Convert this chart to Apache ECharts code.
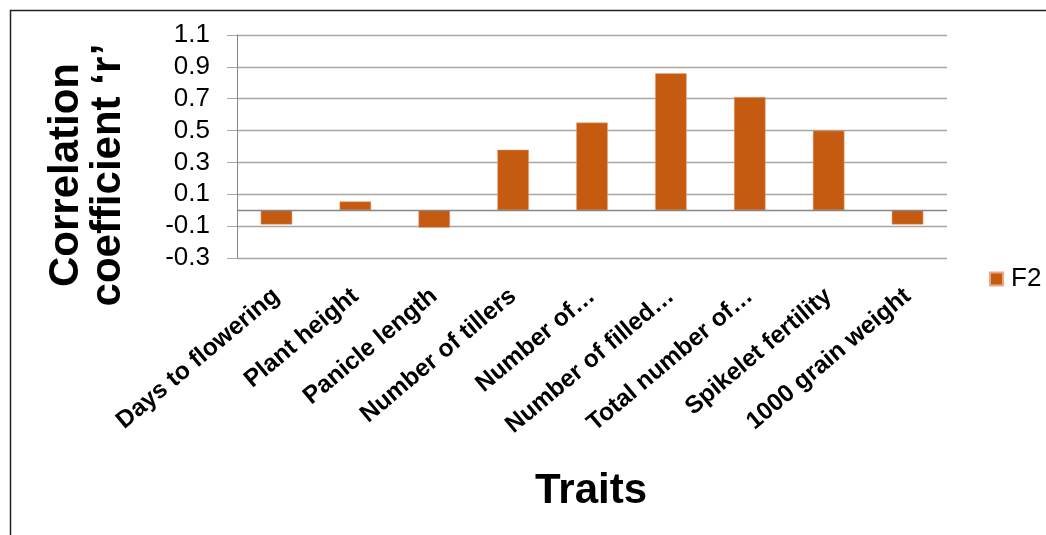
<!DOCTYPE html>
<html>
<head>
<meta charset="utf-8">
<script src="https://cdn.jsdelivr.net/npm/echarts@6/dist/echarts.min.js"></script>
<style>
html,body{margin:0;padding:0;background:#fff;}
#chart{width:1046px;height:535px;}
</style>
</head>
<body>
<div id="chart"></div>
<script>
const categories = ['Days to flowering','Plant height','Panicle length','Number of tillers','Number of…','Number of filled…','Total number of…','Spikelet fertility','1000 grain weight'];
const seriesName = 'F2';
const values = [-0.09, 0.055, -0.11, 0.38, 0.55, 0.86, 0.71, 0.50, -0.09];
const yMin = -0.3, yMax = 1.1, yStep = 0.2;
const yTitle = 'Correlation\ncoefficient ‘r’';
const xTitle = 'Traits';

const FONT = "'Liberation Sans', Arial, sans-serif";
const chart = echarts.init(document.getElementById('chart'), null, {renderer:'canvas'});
chart.setOption({
  animation:false,
  backgroundColor:'#fff',
  grid:{left:237, right:99, top:35, bottom:277, containLabel:false},
  legend:{
    data:[seriesName], left:984, top:261, icon:'rect', itemWidth:13, itemHeight:13,
    textStyle:{fontFamily:FONT, fontSize:26, color:'#000', padding:[0,0,0,3]}
  },
  xAxis:{
    type:'category', data:categories,
    axisLine:{show:false, onZero:false},
    axisTick:{show:false},
    axisLabel:{rotate:40, margin:35, interval:0, fontFamily:FONT, fontWeight:'bold', fontSize:24.5, color:'#000'}
  },
  yAxis:{
    type:'value', min:yMin, max:yMax, interval:yStep,
    axisLine:{show:true, lineStyle:{color:'#868686', width:1}},
    axisTick:{show:true, inside:false, length:10, lineStyle:{color:'#a6a6a6'}},
    splitLine:{show:true, lineStyle:{color:'#a6a6a6', width:1.3}},
    axisLabel:{margin:27, fontFamily:FONT, fontSize:26, color:'#000',
      formatter:v=>v.toFixed(1)}
  },
  series:[{
    name:seriesName, type:'bar', data:values, barCategoryGap:'60%',
    itemStyle:{color:'#C55A11', borderColor:'#E8A98A', borderWidth:0.5},
    markLine:{silent:true, symbol:'none', label:{show:false},
      lineStyle:{color:'#868686', type:'solid', width:1.3},
      data:[{yAxis:0}]}
  }],
  graphic:[
    {type:'rect', shape:{x:10.5, y:10.5, width:1100, height:600},
      style:{fill:'none', stroke:'#222', lineWidth:1.5}, silent:true},
    {type:'text', x:87, y:175, rotation:Math.PI/2,
      style:{text:yTitle, font:"bold 42px 'Liberation Sans', Arial, sans-serif", fill:'#000',
        textAlign:'center', textVerticalAlign:'middle', lineHeight:42}},
    {type:'text', x:591, y:491,
      style:{text:xTitle, font:"bold 42px 'Liberation Sans', Arial, sans-serif", fill:'#000',
        textAlign:'center', textVerticalAlign:'middle'}}
  ]
});
</script>
</body>
</html>
